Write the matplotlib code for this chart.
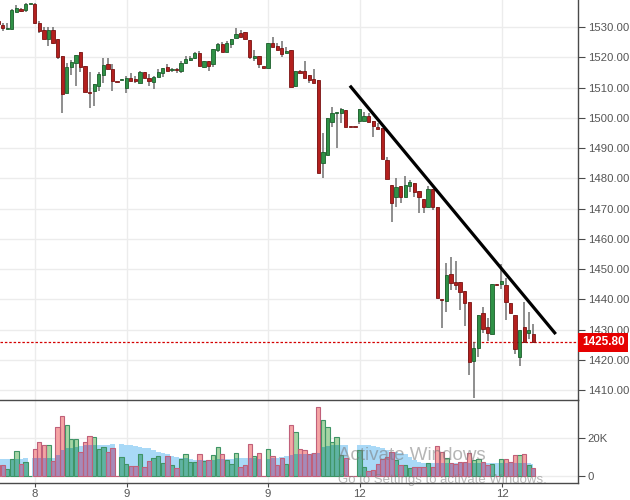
import matplotlib
matplotlib.use("Agg")
import matplotlib.pyplot as plt
from matplotlib.transforms import blended_transform_factory
import numpy as np

plt.rcParams['font.family'] = ['Liberation Sans', 'DejaVu Sans']

# ---------------- data ----------------
opens = [1532.0, 1530.7, 1529.2, 1529.4, 1534.9, 1536.0, 1535.7, 1537.6, 1537.6, 1531.2,
         1529.0, 1525.9, 1529.0, 1526.0, 1520.4, 1508.3, 1516.9, 1518.2, 1521.7, 1517.1,
         1508.5, 1508.9, 1510.6, 1514.1, 1517.8, 1516.1, 1511.9, 1512.6, 1509.7, 1513.0,
         1512.8, 1511.6, 1515.1, 1513.0, 1511.9, 1513.4, 1514.9, 1516.7, 1515.7, 1515.9,
         1515.5, 1518.0, 1519.1, 1519.6, 1521.3, 1516.9, 1518.8, 1517.7, 1522.4, 1524.3,
         1521.8, 1524.3, 1526.3, 1528.1, 1528.2, 1525.7, 1519.6, 1520.5, 1516.7, 1516.3,
         1524.8, 1523.8, 1523.0, 1521.3, 1522.4, 1510.5, 1515.5, 1515.5, 1514.1, 1512.8,
         1512.5, 1484.9, 1487.7, 1498.7, 1501.6, 1501.7, 1502.6, 1496.9, 1496.9, 1499.0,
         1499.0, 1500.6, 1498.9, 1497.0, 1496.7, 1486.0, 1477.7, 1473.7, 1477.4, 1473.9,
         1477.4, 1478.3, 1475.8, 1473.1, 1470.4, 1476.4, 1470.6, 1439.9, 1439.4, 1448.2,
         1445.8, 1445.6, 1442.7, 1439.2, 1419.7, 1424.0, 1435.4, 1430.9, 1428.5, 1444.9,
         1444.9, 1444.7, 1438.9, 1434.8, 1420.8, 1430.7, 1428.7, 1428.5]
highs = [1532.3, 1531.2, 1531.2, 1535.8, 1537.3, 1536.3, 1537.8, 1537.6, 1537.8, 1532.0,
         1529.9, 1529.9, 1529.9, 1526.0, 1520.4, 1518.2, 1519.1, 1520.7, 1521.7, 1517.1,
         1515.2, 1511.1, 1515.2, 1519.6, 1519.6, 1517.8, 1511.9, 1512.7, 1513.8, 1514.7,
         1513.8, 1515.5, 1515.1, 1514.5, 1513.8, 1516.0, 1516.3, 1517.7, 1516.5, 1516.4,
         1518.8, 1520.4, 1520.4, 1521.7, 1522.1, 1518.8, 1518.8, 1522.6, 1524.8, 1525.1,
         1525.5, 1526.0, 1529.6, 1529.0, 1528.2, 1525.7, 1522.4, 1520.5, 1516.7, 1524.6,
         1526.6, 1524.8, 1525.4, 1523.5, 1522.4, 1515.5, 1515.8, 1518.8, 1514.1, 1516.1,
         1512.5, 1494.9, 1500.0, 1503.6, 1501.7, 1503.3, 1502.6, 1496.9, 1496.9, 1502.8,
         1502.0, 1501.5, 1498.9, 1498.4, 1496.7, 1487.1, 1477.7, 1480.0, 1477.4, 1480.7,
         1479.4, 1478.3, 1475.8, 1473.1, 1477.4, 1476.4, 1470.6, 1439.9, 1452.1, 1453.9,
         1452.6, 1445.6, 1442.7, 1439.2, 1426.0, 1434.8, 1437.5, 1433.7, 1444.9, 1444.9,
         1451.6, 1446.9, 1438.9, 1434.8, 1430.0, 1439.2, 1435.9, 1431.8]
lows = [1530.6, 1528.8, 1529.2, 1529.4, 1534.9, 1534.9, 1535.1, 1537.6, 1531.0, 1528.1,
        1525.9, 1523.8, 1524.4, 1519.4, 1501.7, 1508.3, 1514.1, 1510.5, 1515.2, 1508.6,
        1503.3, 1503.9, 1508.9, 1511.4, 1516.1, 1508.9, 1511.8, 1512.6, 1508.3, 1512.1,
        1511.6, 1511.6, 1513.0, 1510.6, 1509.6, 1513.4, 1513.6, 1515.6, 1515.2, 1514.9,
        1514.9, 1517.7, 1518.9, 1519.4, 1517.2, 1516.5, 1515.6, 1516.9, 1521.8, 1521.8,
        1521.8, 1523.2, 1526.3, 1526.8, 1525.9, 1519.3, 1518.8, 1516.5, 1516.6, 1516.3,
        1523.5, 1522.4, 1520.2, 1521.3, 1510.3, 1510.3, 1514.7, 1513.2, 1511.4, 1511.6,
        1481.6, 1480.0, 1487.7, 1497.0, 1490.1, 1498.4, 1496.8, 1496.8, 1496.8, 1497.9,
        1499.0, 1498.7, 1493.7, 1496.3, 1486.3, 1479.6, 1465.6, 1470.6, 1471.7, 1473.9,
        1475.5, 1473.9, 1468.6, 1468.6, 1470.4, 1469.5, 1440.5, 1430.4, 1435.9, 1443.1,
        1443.1, 1436.5, 1431.2, 1414.9, 1407.3, 1421.0, 1428.7, 1426.3, 1428.5, 1444.7,
        1443.3, 1433.1, 1435.5, 1421.9, 1417.9, 1425.6, 1426.8, 1425.4]
closes = [1530.9, 1529.6, 1529.7, 1535.6, 1536.4, 1535.4, 1537.6, 1537.6, 1531.2, 1528.8,
          1525.9, 1529.0, 1524.6, 1520.2, 1507.9, 1516.7, 1518.4, 1520.7, 1516.9, 1508.6,
          1508.3, 1511.1, 1514.5, 1517.4, 1516.1, 1512.1, 1511.8, 1512.7, 1513.0, 1512.1,
          1512.0, 1515.2, 1513.0, 1512.1, 1513.4, 1515.2, 1516.3, 1515.6, 1515.8, 1515.8,
          1518.2, 1519.3, 1519.9, 1521.3, 1517.2, 1518.8, 1517.1, 1522.6, 1524.3, 1521.8,
          1524.8, 1526.0, 1527.7, 1526.8, 1525.9, 1520.0, 1520.5, 1517.7, 1516.6, 1524.6,
          1523.5, 1522.4, 1521.1, 1522.2, 1510.3, 1515.5, 1514.9, 1513.2, 1512.5, 1511.6,
          1481.6, 1488.6, 1500.0, 1501.5, 1501.7, 1502.9, 1496.8, 1496.8, 1496.8, 1502.8,
          1500.6, 1498.7, 1497.4, 1496.3, 1486.3, 1479.6, 1471.9, 1477.2, 1473.9, 1477.8,
          1478.9, 1475.5, 1473.9, 1470.4, 1476.4, 1470.6, 1440.5, 1439.7, 1448.0, 1445.5,
          1444.7, 1442.5, 1438.9, 1419.4, 1424.0, 1434.8, 1430.1, 1428.7, 1444.9, 1444.7,
          1446.0, 1439.2, 1435.5, 1423.5, 1430.0, 1425.9, 1429.8, 1425.8]
# volume in thousands
volumes = [6.0, 5.8, 3.7, 8.9, 13.2, 6.3, 7.2, 0.0, 14.2, 17.7,
           16.3, 16.3, 7.9, 25.6, 31.4, 26.8, 19.5, 19.5, 12.5, 17.7,
           20.9, 20.3, 14.2, 15.1, 12.5, 14.6, 0.0, 9.8, 6.1, 5.3,
           5.3, 11.4, 4.7, 7.9, 9.3, 10.5, 7.0, 10.7, 5.8, 4.4,
           8.9, 11.4, 7.5, 7.5, 11.4, 8.1, 8.4, 11.1, 15.1, 11.4,
           8.4, 6.1, 11.9, 4.9, 5.8, 16.7, 10.5, 11.9, 0.0, 14.0,
           10.5, 5.8, 9.3, 6.1, 26.8, 23.0, 14.2, 13.7, 11.4, 11.9,
           36.1, 29.5, 25.6, 18.0, 20.3, 11.0, 9.5, 0.0, 0.0, 13.7,
           5.0, 2.6, 3.0, 6.5, 9.0, 10.0, 12.8, 8.4, 6.0, 6.0,
           4.0, 4.5, 5.0, 4.5, 7.0, 4.5, 15.8, 12.8, 9.5, 6.8,
           6.5, 7.5, 7.5, 11.9, 8.6, 9.0, 7.5, 5.8, 6.1, 0.0,
           8.8, 9.1, 7.5, 11.0, 11.0, 11.4, 5.8, 4.0]
vol_avg = [9.0, 9.0, 9.0, 9.0, 9.1, 9.2, 9.3, 0.0, 9.3, 9.3,
           9.3, 9.4, 9.6, 11.0, 13.7, 14.6, 15.0, 15.4, 16.0, 16.3,
           16.3, 16.3, 16.3, 16.3, 16.3, 16.7, 0.0, 16.8, 16.3, 16.3,
           15.8, 15.3, 15.0, 14.6, 13.7, 12.8, 11.9, 11.4, 10.7, 10.2,
           9.6, 9.3, 8.8, 8.4, 8.2, 8.2, 8.2, 8.4, 8.8, 8.9,
           8.9, 8.9, 9.3, 9.3, 9.3, 9.6, 9.3, 8.9, 0.0, 8.9,
           9.3, 9.6, 10.2, 10.5, 11.0, 11.4, 11.6, 11.8, 11.8, 11.9,
           12.3, 15.4, 16.0, 16.3, 16.3, 16.3, 16.3, 0.0, 0.0, 16.3,
           16.3, 16.3, 16.0, 15.4, 14.6, 13.7, 12.8, 12.5, 11.9, 11.4,
           10.2, 8.4, 7.5, 7.0, 6.7, 6.7, 6.7, 6.7, 6.7, 6.7,
           6.7, 6.7, 6.7, 6.7, 6.7, 6.7, 6.7, 6.7, 6.7, 6.7,
           6.7, 6.7, 6.7, 6.7, 6.7, 6.7, 6.7, 6.5]
time_tick_pos = [8.06, 28.2, 59.0, 79.1, 110.2]
time_tick_labels = ['8', '9', '9', '12', '12']
price_ticks = [1410, 1420, 1430, 1440, 1450, 1460, 1470, 1480, 1490, 1500, 1510, 1520, 1530]
vol_ticks = [0, 20]
vol_tick_labels = ['0', '20K']
last_price = 1425.80
trend_x = [76.9, 121.9]
trend_y = [1510.6, 1428.5]

# ---------------- figure ----------------
fig = plt.figure(figsize=(6.3, 5.0), dpi=100)
fig.patch.set_facecolor('white')
W, H = 630.0, 500.0
axp = fig.add_axes([0, 100 / H, 578 / W, 400 / H])
axv = fig.add_axes([0, 17 / H, 578 / W, 83 / H])

n = len(opens)
x = np.arange(n)
o = np.array(opens); c = np.array(closes); hi = np.array(highs); lo = np.array(lows)
up = c >= o

GREEN, GREEN_E = '#2f9146', '#1c5e2b'
RED, RED_E = '#b3201e', '#7a1212'
WICK = '#707070'
GRID = '#ececec'
AX = '#4a4a4a'
TXT = '#555555'
FS = 8.2

xmin, xmax = 0.409, 126.77
for a in (axp, axv):
    a.set_xlim(xmin, xmax)
    a.set_facecolor('white')
    for xv in time_tick_pos:
        a.axvline(xv, color=GRID, lw=1.0, zorder=0)

# price pane
axp.set_ylim(1406.7, 1538.93)
for pt in price_ticks:
    axp.axhline(pt, color=GRID, lw=1.0, zorder=0)
axp.vlines(x, lo, hi, color=WICK, lw=1.1, zorder=2)
body_bottom = np.minimum(o, c)
body_h = np.maximum(np.abs(c - o), 0.35)
axp.bar(x[up], body_h[up], bottom=body_bottom[up], width=0.72,
        color=GREEN, edgecolor=GREEN_E, linewidth=0.6, zorder=3)
axp.bar(x[~up], body_h[~up], bottom=body_bottom[~up], width=0.72,
        color=RED, edgecolor=RED_E, linewidth=0.6, zorder=3)
axp.plot(trend_x, trend_y, color='black', lw=2.3, zorder=4, solid_capstyle='butt')
axp.axhline(last_price, color='#d40000', lw=0.9, ls=(0, (2, 1.5)), zorder=1)

axp.yaxis.tick_right()
axp.set_yticks(price_ticks)
axp.set_yticklabels([f'{v:.2f}' for v in price_ticks])
axp.tick_params(axis='y', direction='out', length=5, width=0.8, color=AX,
                labelsize=FS, labelcolor=TXT, pad=2)
axp.tick_params(axis='x', bottom=False, labelbottom=False)
for s in ('left', 'top', 'bottom'):
    axp.spines[s].set_visible(False)
axp.spines['right'].set_color(AX)
axp.spines['right'].set_linewidth(1.0)
tr = blended_transform_factory(axp.transAxes, axp.transData)
axp.text(1.0 + 7 / 578, 1540, '1540.00', transform=tr, ha='left', va='center',
         fontsize=FS, color=TXT, clip_on=False)
axp.text(1.0 + 4 / 578, last_price, '1425.80', transform=tr, ha='left', va='center',
         fontsize=FS + 0.3, fontweight='bold', color='white', clip_on=False, zorder=10,
         bbox=dict(boxstyle='square,pad=0.3', fc='#e60000', ec='none'))

# volume pane
axv.set_ylim(-3.68, 40.0)
for vt in vol_ticks:
    axv.axhline(vt, color=GRID, lw=1.0, zorder=0)
avg = np.array(vol_avg)
vols = np.array(volumes)
axv.fill_between(x, avg, 0, step='mid', color='#a9d9f7', lw=0, zorder=1)
low_part = np.minimum(vols, avg)
high_part = np.maximum(vols - avg, 0)
# parts of bars inside the blue band (blended tones) and above it (light tones)
axv.bar(x[up], low_part[up], width=0.95, color='#5fb3a3', lw=0, zorder=2)
axv.bar(x[~up], low_part[~up], width=0.95, color='#a68ab8', lw=0, zorder=2)
axv.bar(x[up], high_part[up], bottom=avg[up], width=0.95, color='#a6d5a4', lw=0, zorder=2)
axv.bar(x[~up], high_part[~up], bottom=avg[~up], width=0.95, color='#f5a4a4', lw=0, zorder=2)
axv.bar(x[up], vols[up], width=0.95, fill=False, edgecolor='#3f9466', linewidth=0.8, zorder=3)
axv.bar(x[~up], vols[~up], width=0.95, fill=False, edgecolor='#c0607a', linewidth=0.8, zorder=3)
axv.yaxis.tick_right()
axv.set_yticks(vol_ticks)
axv.set_yticklabels(vol_tick_labels)
axv.tick_params(axis='y', direction='out', length=5, width=0.8, color=AX,
                labelsize=FS, labelcolor=TXT, pad=2)
axv.set_xticks(time_tick_pos)
axv.set_xticklabels(time_tick_labels)
axv.tick_params(axis='x', direction='out', length=3, width=0.8, color=AX,
                labelsize=FS, labelcolor=TXT, pad=1.2)
axv.spines['left'].set_visible(False)
for s in ('top', 'bottom', 'right'):
    axv.spines[s].set_color(AX)
    axv.spines[s].set_linewidth(1.0)

# OS watermark overlay present in the screenshot
fig.text(338 / W, 1 - 456 / H, 'Activate Windows', fontsize=13.5, color='#7a7a7a',
         alpha=0.55, ha='left', va='center')
fig.text(338 / W, 1 - 480 / H, 'Go to Settings to activate Windows.', fontsize=9.5,
         color='#7a7a7a', alpha=0.55, ha='left', va='center')

fig.savefig('out.png', dpi=100)
